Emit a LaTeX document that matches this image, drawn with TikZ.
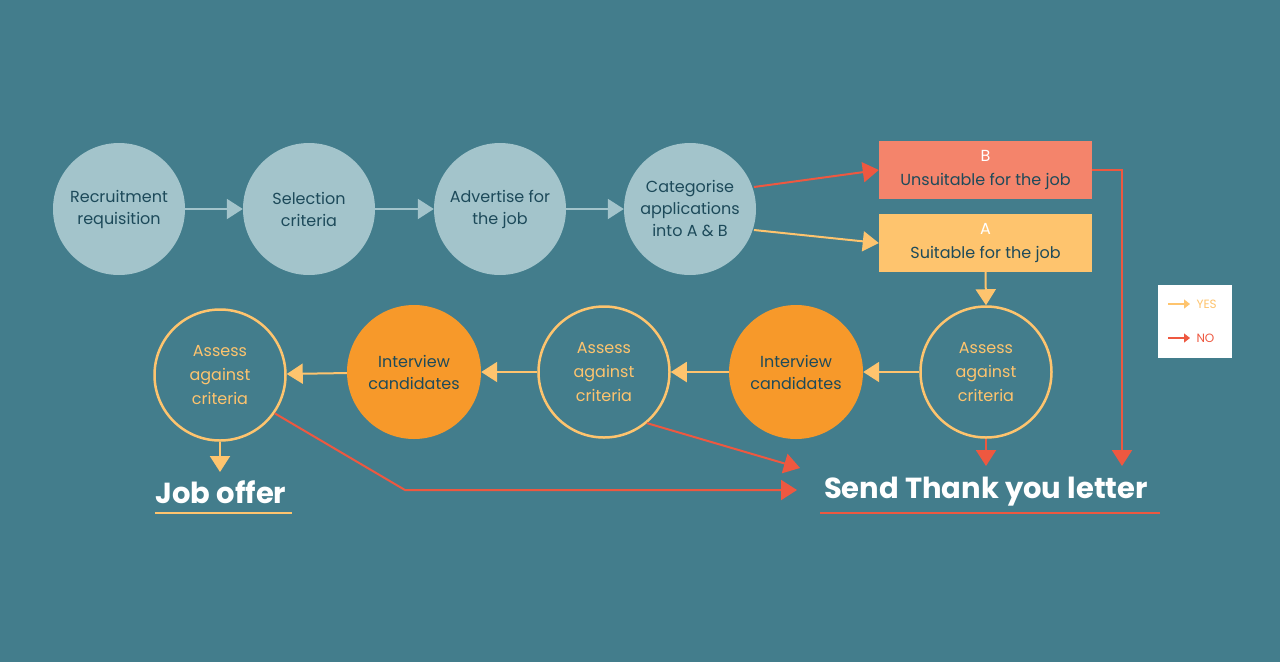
\documentclass[tikz,border=0pt]{standalone}
\usepackage{fontspec}
\setmainfont{Poppins}
\usetikzlibrary{arrows.meta}
\definecolor{bg}{HTML}{437D8C}
\definecolor{lblue}{HTML}{A3C4CB}
\definecolor{dark}{HTML}{1D4A5A}
\definecolor{yel}{HTML}{FEC46E}
\definecolor{org}{HTML}{F7992A}
\definecolor{red}{HTML}{EE5840}
\definecolor{salmon}{HTML}{F4846B}
\definecolor{gry}{HTML}{A3C4CB}
\tikzset{
 topc/.style={circle,fill=lblue,minimum size=132pt,inner sep=0pt,align=center,text=dark,font=\fontsize{16}{22}\selectfont},
 intc/.style={circle,fill=org,minimum size=134pt,inner sep=0pt,align=center,text=dark,font=\fontsize{16}{22}\selectfont},
 asc/.style={circle,draw=yel,line width=2.5pt,minimum size=131pt,inner sep=0pt,align=center,text=yel,font=\fontsize{16}{24}\selectfont},
 boxn/.style={minimum width=213pt,minimum height=58pt,inner sep=0pt,align=center,text=dark,font=\fontsize{16}{24}\selectfont},
 garr/.style={draw=gry,line width=2pt,-{Triangle[width=20pt,length=16pt]}},
 yarr/.style={draw=yel,line width=2pt,-{Triangle[width=20pt,length=16pt]}},
 rarr/.style={draw=red,line width=2pt,-{Triangle[width=20pt,length=16pt]}},
}
\begin{document}
\begin{tikzpicture}[x=1pt,y=-1pt]
\fill[bg] (0,0) rectangle (1280,662);
\useasboundingbox (0,0) rectangle (1280,662);
\node[topc] (c1) at (119,209) {Recruitment\\requisition};
\node[topc] (c2) at (309,209) {Selection\\criteria};
\node[topc] (c3) at (500,209) {Advertise for\\the job};
\node[topc] (c4) at (690,209) {Categorise\\applications\\into A \& B};
\node[boxn,fill=salmon] (b) at (985.5,170) {{\color{white}B}\\Unsuitable for the job};
\node[boxn,fill=yel] (a) at (985.5,243) {{\color{white}A}\\Suitable for the job};
\node[asc] (s1) at (986,372) {Assess\\against\\criteria};
\node[intc] (i1) at (796,372) {Interview\\candidates};
\node[asc] (s2) at (604,372) {Assess\\against\\criteria};
\node[intc] (i2) at (414,372) {Interview\\candidates};
\node[asc] (s3) at (220,375) {Assess\\against\\criteria};
\node[text=white,font=\bfseries\fontsize{29}{34}\selectfont] (jo) at (221,492) {Job offer};
\node[text=white,font=\bfseries\fontsize{29}{34}\selectfont] (ty) at (986,492) {Send Thank you letter};
\draw[yel,line width=2.5pt] (155,513) -- (292,513);
\draw[red,line width=2pt] (820,513) -- (1160,513);
\draw[garr] (c1) -- (c2);
\draw[garr] (c2) -- (c3);
\draw[garr] (c3) -- (c4);
\coordinate (c4b) at (754,187); \coordinate (c4a) at (754,230);
\draw[rarr] (c4b) -- (b.west);
\draw[yarr] (c4a) -- (a.west);
\draw[yarr] (a.south) -- (s1.north);
\draw[yarr] (s1) -- (i1);
\draw[yarr] (i1) -- (s2);
\draw[yarr] (s2) -- (i2);
\draw[yarr] (i2) -- (s3);
\coordinate (jt) at (220,472);
\draw[yarr] (s3.south) -- (jt);
\coordinate (t1) at (986,466);
\draw[rarr] (s1.south) -- (t1);
\coordinate (bk) at (1122,170); \coordinate (t2) at (1122,466);
\draw[rarr] (b.east) -- (bk) -- (t2);
\coordinate (t3) at (800,468);
\draw[rarr] (s2.-50) -- (t3);
\coordinate (k) at (405,490); \coordinate (t4) at (797,490);
\draw[rarr] (s3.-35) -- (k) -- (t4);
\node[fill=white,minimum width=74pt,minimum height=73pt,inner sep=0pt] (lg) at (1195,321.5) {};
\coordinate (ly1) at (1168,304); \coordinate (ly2) at (1190,304);
\coordinate (ln1) at (1168,338); \coordinate (ln2) at (1190,338);
\draw[draw=yel,line width=1.2pt,-{Triangle[width=9pt,length=6pt]}] (ly1) -- (ly2);
\draw[draw=red,line width=1.2pt,-{Triangle[width=9pt,length=6pt]}] (ln1) -- (ln2);
\node[text=yel,font=\fontsize{12}{14}\selectfont,anchor=west] (yl) at (1193,304) {YES};
\node[text=red,font=\fontsize{12}{14}\selectfont,anchor=west] (nl) at (1193,338) {NO};
\end{tikzpicture}
\end{document}
